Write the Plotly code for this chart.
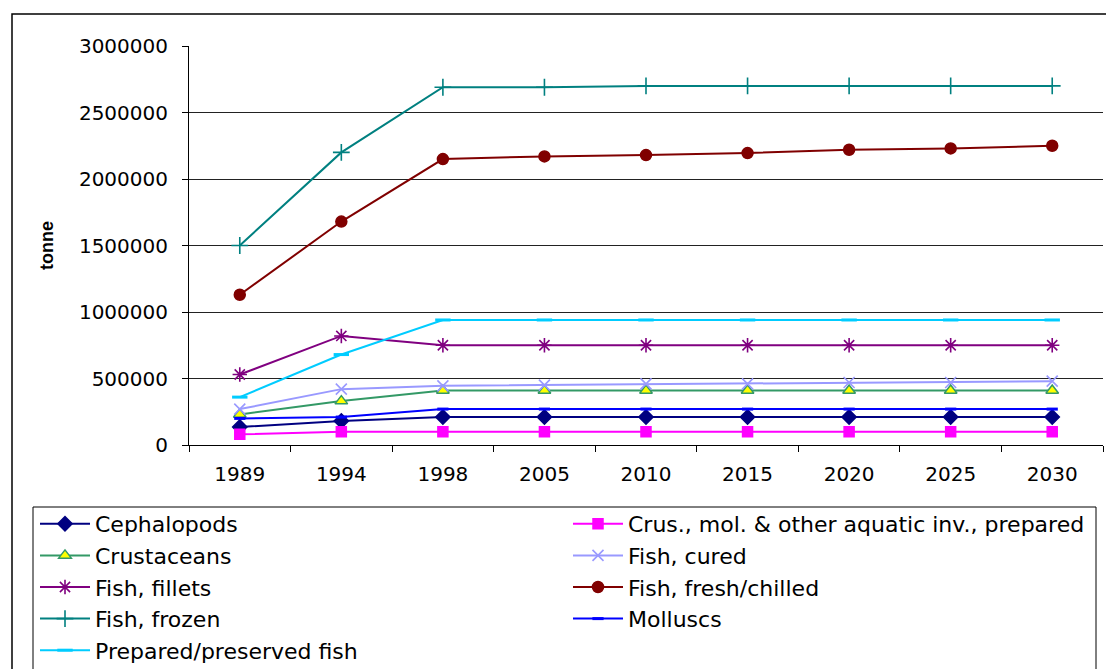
import plotly.graph_objects as go

# Years on the category axis
years = ["1989", "1994", "1998", "2005", "2010", "2015", "2020", "2025", "2030"]

# Quantities in tonnes per product group
cephalopods = [135000, 180000, 210000, 210000, 210000, 210000, 210000, 210000, 210000]
crus_prepared = [80000, 100000, 100000, 100000, 100000, 100000, 100000, 100000, 100000]
crustaceans = [230000, 330000, 410000, 410000, 410000, 410000, 410000, 410000, 410000]
fish_cured = [270000, 420000, 445000, 450000, 460000, 460000, 470000, 470000, 480000]
fish_fillets = [530000, 820000, 750000, 750000, 750000, 750000, 750000, 750000, 750000]
fish_fresh = [1130000, 1680000, 2150000, 2170000, 2180000, 2195000, 2220000, 2230000, 2250000]
fish_frozen = [1500000, 2200000, 2690000, 2690000, 2700000, 2700000, 2700000, 2700000, 2700000]
molluscs = [200000, 210000, 270000, 270000, 270000, 270000, 270000, 270000, 270000]
prepared_fish = [360000, 680000, 940000, 940000, 940000, 940000, 940000, 940000, 940000]

y_ticks = [0, 500000, 1000000, 1500000, 2000000, 2500000, 3000000]

FONT = "DejaVu Sans"

# name, values, line colour, marker symbol, marker size, marker fill, marker outline, legend
series = [
    ("Cephalopods", cephalopods, "#000080", "diamond", 11, "#000080", "#000080", "legend"),
    ("Crus., mol. & other aquatic inv., prepared", crus_prepared, "#FF00FF", "square", 10, "#FF00FF", "#FF00FF", "legend2"),
    ("Crustaceans", crustaceans, "#339966", "triangle-up", 11, "#FFFF00", "#339966", "legend"),
    ("Fish, cured", fish_cured, "#9999FF", "x-thin-open", 11, "#9999FF", "#9999FF", "legend2"),
    ("Fish, fillets", fish_fillets, "#800080", "asterisk-open", 12, "#800080", "#800080", "legend"),
    ("Fish, fresh/chilled", fish_fresh, "#800000", "circle", 11, "#800000", "#800000", "legend2"),
    ("Fish, frozen", fish_frozen, "#008080", "cross-thin-open", 12, "#008080", "#008080", "legend"),
    ("Molluscs", molluscs, "#0000FF", "line-ew-open", 8, "#0000FF", "#0000FF", "legend2"),
    ("Prepared/preserved fish", prepared_fish, "#00CCFF", "line-ew-open", 11, "#00CCFF", "#00CCFF", "legend"),
]

fig = go.Figure()
for i, (name, vals, color, symbol, size, fill, outline, lg) in enumerate(series):
    open_sym = symbol.endswith("-open")
    fig.add_trace(go.Scatter(
        x=years,
        y=vals,
        name=name,
        mode="lines+markers",
        legend=lg,
        legendgroup=f"g{i}",
        line=dict(color=color, width=2),
        marker=dict(
            symbol=symbol,
            size=size,
            color=fill,
            line=dict(color=outline, width=3 if symbol.startswith("line") else (1.6 if open_sym else 1.5)),
        ),
    ))

W, H = 1106, 669
L, R, T, B = 189, 3, 46, 224
pw, ph = W - L - R, H - T - B


def px_x(x):
    return (x - L) / pw


def px_y(y):
    return (H - B - y) / ph


legend_font = dict(family=FONT, size=22, color="#000000")

fig.update_layout(
    width=W,
    height=H,
    margin=dict(l=L, r=R, t=T, b=B, pad=0),
    paper_bgcolor="#FFFFFF",
    plot_bgcolor="#FFFFFF",
    font=dict(family=FONT, color="#000000"),
    xaxis=dict(
        type="category",
        tickson="boundaries",
        ticks="outside",
        ticklen=6,
        tickcolor="#000000",
        showline=True,
        linecolor="#000000",
        linewidth=1,
        showgrid=False,
        tickangle=0,
        tickfont=dict(family=FONT, size=20, color="#000000"),
        ticklabelstandoff=11,
        range=[-0.5, 8.5],
    ),
    yaxis=dict(
        range=[0, 3000000],
        tickvals=y_ticks,
        tickformat="d",
        ticks="outside",
        ticklen=6,
        tickcolor="#000000",
        showline=True,
        linecolor="#000000",
        linewidth=1,
        showgrid=True,
        gridcolor="#222222",
        gridwidth=1,
        zeroline=False,
        tickfont=dict(family=FONT, size=20, color="#000000"),
        ticklabelstandoff=10,
        title=dict(text="tonne", font=dict(family="Liberation Sans", size=18, color="#000000", weight="bold"), standoff=20),
    ),
    legend=dict(
        xref="paper", yref="container",
        x=px_x(35), y=1 - 503 / H,
        xanchor="left", yanchor="top",
        orientation="v",
        font=legend_font,
        bgcolor="rgba(0,0,0,0)",
        tracegroupgap=0,
        itemwidth=50,
    ),
    legend2=dict(
        xref="paper", yref="container",
        x=px_x(568), y=1 - 503 / H,
        xanchor="left", yanchor="top",
        orientation="v",
        font=legend_font,
        bgcolor="rgba(0,0,0,0)",
        tracegroupgap=0,
        itemwidth=50,
    ),
    shapes=[
        # outer chart frame
        dict(type="rect", xref="paper", yref="paper",
             x0=px_x(12), x1=px_x(1120), y0=px_y(700), y1=px_y(14),
             line=dict(color="#000000", width=1.5), fillcolor="rgba(0,0,0,0)", layer="below"),
        # legend frame
        dict(type="rect", xref="paper", yref="paper",
             x0=px_x(33), x1=px_x(1096), y0=px_y(700), y1=px_y(507),
             line=dict(color="#000000", width=1), fillcolor="rgba(0,0,0,0)", layer="below"),
    ],
)

fig.write_html("out.html")
